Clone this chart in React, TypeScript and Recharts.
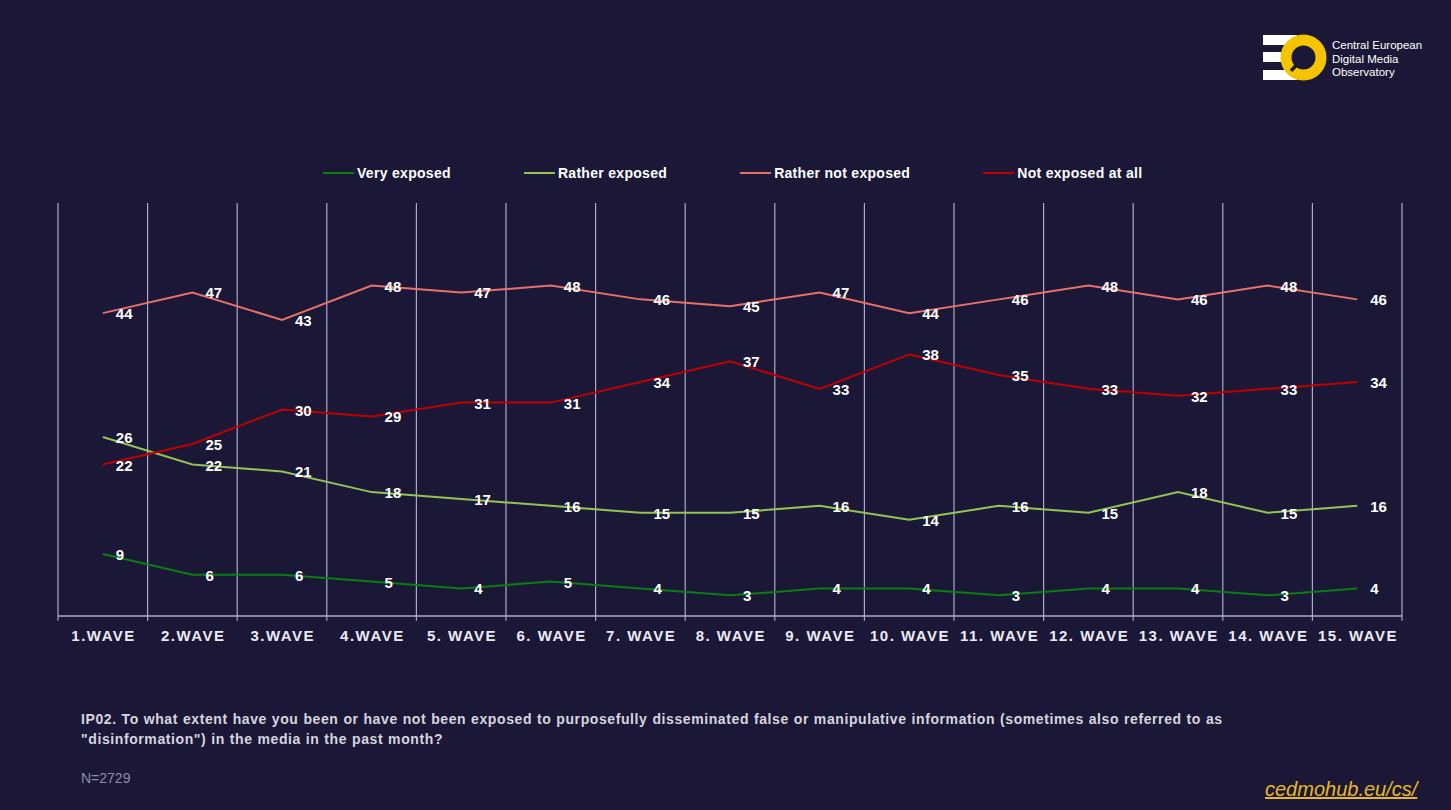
import React from "react";
import { LineChart, Line, XAxis, YAxis, ReferenceLine, LabelList } from "recharts";

// survey waves
const waves = [
  "1.WAVE",
  "2.WAVE",
  "3.WAVE",
  "4.WAVE",
  "5. WAVE",
  "6. WAVE",
  "7. WAVE",
  "8. WAVE",
  "9. WAVE",
  "10. WAVE",
  "11. WAVE",
  "12. WAVE",
  "13. WAVE",
  "14. WAVE",
  "15. WAVE",
];

// shares in %
const veryExposed = [9, 6, 6, 5, 4, 5, 4, 3, 4, 4, 3, 4, 4, 3, 4];
const ratherExposed = [26, 22, 21, 18, 17, 16, 15, 15, 16, 14, 16, 15, 18, 15, 16];
const ratherNotExposed = [44, 47, 43, 48, 47, 48, 46, 45, 47, 44, 46, 48, 46, 48, 46];
const notExposedAtAll = [22, 25, 30, 29, 31, 31, 34, 37, 33, 38, 35, 33, 32, 33, 34];

const series = [
  { key: "very", name: "Very exposed", color: "#0b7d12", values: veryExposed },
  { key: "rather", name: "Rather exposed", color: "#92c353", values: ratherExposed },
  { key: "ratherNot", name: "Rather not exposed", color: "#e8706a", values: ratherNotExposed },
  { key: "notAtAll", name: "Not exposed at all", color: "#c00000", values: notExposedAtAll },
];

const data = waves.map((wave, i) => {
  const row: Record<string, number | string> = { idx: i, wave };
  series.forEach((s) => {
    row[s.key] = s.values[i];
  });
  return row;
});

const BG = "#1a1836";
const GRID = "#aca9ca";
const YELLOW = "#f5c400";
const FONT = "'Liberation Sans', Arial, sans-serif";

// boundaries between waves, drawn as full-height dividers
const dividers = Array.from({ length: waves.length + 1 }, (_, i) => i - 0.5);

function WaveTick({ x, y, payload }: { x?: number; y?: number; payload?: { value: number } }) {
  const label = waves[payload?.value ?? 0];
  return (
    <text
      x={(x ?? 0) + 0.8}
      y={(y ?? 0) + 16.5}
      textAnchor="middle"
      fill="#ecebf3"
      fontSize={15}
      fontWeight={700}
      fontFamily={FONT}
      letterSpacing={1.5}
    >
      {label}
    </text>
  );
}

function ValueLabel(props: any) {
  const { x, y, value } = props;
  return (
    <text x={x + 13} y={y + 6} fill="#ffffff" fontSize={15} fontWeight={700} fontFamily={FONT}>
      {value}
    </text>
  );
}

function Logo() {
  return (
    <svg width={200} height={70} style={{ position: "absolute", left: 1250, top: 25 }}>
      <rect x={13} y={10} width={34} height={10} fill="#ffffff" />
      <rect x={13} y={27} width={34} height={10} fill="#ffffff" />
      <rect x={13} y={45} width={34} height={10} fill="#ffffff" />
      <circle cx={53.5} cy={32.5} r={17.5} fill={BG} stroke={YELLOW} strokeWidth={11} />
      {/* magnifier handle cut into the ring */}
      <rect x={40} y={41} width={8} height={3.5} fill={BG} transform="rotate(-45 44 43)" />
      <text x={82} y={24} fill="#ffffff" fontSize={11.5} fontFamily={FONT}>
        Central European
      </text>
      <text x={82} y={37.5} fill="#ffffff" fontSize={11.5} fontFamily={FONT}>
        Digital Media
      </text>
      <text x={82} y={51} fill="#ffffff" fontSize={11.5} fontFamily={FONT}>
        Observatory
      </text>
    </svg>
  );
}

function LegendRow() {
  return (
    <div
      style={{
        position: "absolute",
        top: 165,
        left: 323,
        display: "flex",
        alignItems: "center",
        gap: 73,
        fontFamily: FONT,
        fontSize: 14,
        fontWeight: 700,
        color: "#ffffff",
        letterSpacing: 0.3,
      }}
    >
      {series.map((s) => (
        <div key={s.key} style={{ display: "flex", alignItems: "center" }}>
          <span style={{ width: 31, height: 2, background: s.color, marginRight: 3 }} />
          <span>{s.name}</span>
        </div>
      ))}
    </div>
  );
}

export default function App() {
  return (
    <div style={{ position: "relative", width: 1451, height: 810, background: BG, overflow: "hidden" }}>
      <style>{"body{margin:0}"}</style>
      <Logo />
      <LegendRow />
      <LineChart
        width={1451}
        height={810}
        data={data}
        margin={{ top: 203, right: 49, bottom: 164, left: 58 }}
        style={{ position: "absolute", left: 0, top: 0 }}
      >
        <XAxis
          dataKey="idx"
          type="number"
          domain={[-0.5, 14.5]}
          ticks={waves.map((_, i) => i)}
          interval={0}
          height={30}
          tickLine={false}
          axisLine={{ stroke: GRID, strokeWidth: 1.5 }}
          tick={<WaveTick />}
        />
        <YAxis hide width={0} domain={[0, 60]} />
        {dividers.map((d) => (
          <ReferenceLine
            key={d}
            segment={[
              { x: d, y: -0.7 },
              { x: d, y: 60 },
            ]}
            stroke={GRID}
            strokeWidth={1.2}
            ifOverflow="visible"
          />
        ))}
        {series.map((s) => (
          <Line
            key={s.key}
            dataKey={s.key}
            name={s.name}
            stroke={s.color}
            strokeWidth={2}
            dot={false}
            type="linear"
            isAnimationActive={false}
          >
            <LabelList dataKey={s.key} content={<ValueLabel />} />
          </Line>
        ))}
      </LineChart>
      <div
        style={{
          position: "absolute",
          left: 81,
          top: 709,
          fontFamily: FONT,
          fontSize: 14,
          fontWeight: 700,
          color: "#d6d5df",
          lineHeight: "20px",
          letterSpacing: 0.6,
          wordSpacing: 0.4,
          whiteSpace: "nowrap",
        }}
      >
        <div>
          IP02. To what extent have you been or have not been exposed to purposefully disseminated false or
          manipulative information (sometimes also referred to as
        </div>
        <div>"disinformation") in the media in the past month?</div>
      </div>
      <div
        style={{
          position: "absolute",
          left: 81,
          top: 770,
          fontFamily: FONT,
          fontSize: 14,
          color: "#8f8ea3",
        }}
      >
        N=2729
      </div>
      <div
        style={{
          position: "absolute",
          left: 1265,
          top: 778,
          fontFamily: FONT,
          fontSize: 20,
          fontStyle: "italic",
          color: "#e8b923",
          textDecoration: "underline",
        }}
      >
        cedmohub.eu/cs/
      </div>
    </div>
  );
}
